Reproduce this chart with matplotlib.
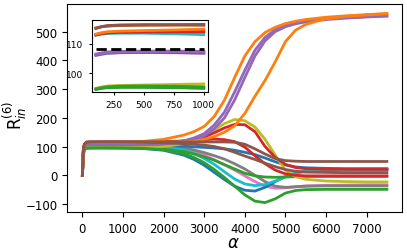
import numpy as np
import matplotlib
matplotlib.use("Agg")
import matplotlib.pyplot as plt

# sample positions along alpha
alpha = [0, 25, 50, 100, 150, 200, 300, 500, 750, 1000, 1500, 2000, 2500, 2750,
         3000, 3250, 3500, 3750, 4000, 4250, 4500, 4750, 5000, 5250, 5500, 6000,
         6500, 7000, 7500]

# R_in^(6) curves (drawing order = list order below)
pink = [0, 85, 100, 106.0, 106.4, 106.7, 106.9, 107.0, 106.9, 106.7,
        104, 99, 90, 82, 70, 54, 36, 18, -2, -22, -38, -45, -44, -40, -37, -35, -34, -33, -33]
gray = [0, 85, 100, 106.1, 106.5, 106.8, 107.0, 107.1, 107.0, 106.9,
        105, 101, 94, 88, 79, 68, 56, 40, 22, 0, -22, -38, -42, -40, -38, -37, -37, -37, -37]
blue2 = [0, 75, 89, 94.5, 94.9, 95.1, 95.3, 95.3, 95.1, 94.8,
         93, 87, 70, 55, 35, 10, -15, -38, -52, -55, -42, -22, -5, 8, 14, 17, 18, 18, 18]
cyan = [0, 90, 106, 112.9, 113.3, 113.5, 113.6, 113.6, 113.4, 113.1,
        110, 103, 88, 76, 58, 38, 12, -13, -30, -36, -32, -20, -5, 8, 15, 19, 20, 21, 21]
green2 = [0, 75, 89, 94.4, 94.8, 95.0, 95.1, 95.1, 95.0, 94.9,
          94, 91, 82, 74, 64, 52, 37, 22, 7, -2, -6, -7, -6, -5, -4, -4, -4, -4, -4]
blue1 = [0, 85, 100, 106.2, 106.6, 106.9, 107.0, 107.1, 107.0, 106.9,
         106, 104, 101, 99, 97, 95, 92, 87, 80, 72, 60, 47, 36, 29, 26, 24, 23, 23, 23]
olive = [0, 75, 89, 94.8, 95.3, 95.6, 95.8, 95.9, 96.1, 96.3,
         97, 100, 110, 122, 138, 158, 180, 194, 190, 168, 125, 70, 18, -5, -14, -20, -22, -23, -23]
green1 = [0, 75, 89, 94.6, 95.0, 95.3, 95.5, 95.6, 95.5, 95.3,
          94, 89, 75, 62, 44, 20, -8, -38, -68, -90, -95, -82, -62, -53, -50, -49, -49, -49, -49]
red2 = [0, 90, 106, 113.0, 113.5, 113.7, 113.9, 114.0, 114.1, 114.2,
        115, 116, 118, 121, 124, 126, 124, 117, 98, 68, 40, 18, 5, 0, -2, -2, -2, -2, -2]
red1 = [0, 90, 106, 113.1, 113.6, 113.8, 114.0, 114.1, 114.1, 114.0,
        114, 116, 120, 125, 133, 148, 165, 177, 176, 152, 100, 62, 38, 27, 23, 21, 21, 21, 21]
purple2 = [0, 85, 100, 106.3, 106.7, 107.0, 107.2, 107.3, 107.3, 107.2,
           107, 109, 116, 124, 137, 162, 200, 262, 340, 415, 468, 500, 517, 527, 534, 542, 547, 551, 554]
purple1 = [0, 85, 100, 106.5, 106.9, 107.2, 107.4, 107.5, 107.5, 107.4,
           108, 110, 120, 130, 145, 175, 220, 290, 365, 435, 480, 507, 522, 531, 537, 545, 549, 552, 555]
orange2 = [0, 90, 106, 113.3, 113.8, 114.1, 114.3, 114.5, 114.7, 115.0,
           115, 115, 116, 118, 125, 135, 150, 172, 215, 275, 330, 395, 465, 505, 525, 545, 553, 558, 562]
orange1 = [0, 92, 108, 115.3, 115.8, 116.0, 116.2, 116.3, 116.4, 116.5,
           118, 125, 140, 152, 170, 205, 262, 340, 415, 465, 497, 515, 528, 536, 542, 550, 555, 559, 563]
brown2 = [0, 92, 108, 115.2, 115.8, 116.1, 116.3, 116.4, 116.4, 116.3,
          115, 113, 110, 108, 105, 100, 92, 80, 67, 55, 42, 30, 20, 14, 11, 10, 9, 9, 9]
brown1 = [0, 92, 108, 115.4, 115.9, 116.2, 116.4, 116.5, 116.5, 116.6,
          116.5, 116.5, 116, 116, 116, 116, 116, 115, 108, 92, 74, 58, 51, 49, 48, 48, 48, 48, 48]

curves = [pink, gray, blue2, cyan, green2, blue1, olive, green1, red2, red1,
          purple2, purple1, orange2, orange1, brown2, brown1]
colors = ['#e377c2', '#7f7f7f', '#1f77b4', '#17becf', '#2ca02c', '#1f77b4',
          '#bcbd22', '#2ca02c', '#d62728', '#d62728', '#9467bd', '#9467bd',
          '#ff7f0e', '#ff7f0e', '#8c564b', '#8c564b']

ref_value = 108.3  # dashed reference level in the inset
inset_range = (100, 1000)

a = np.array(alpha)

fig = plt.figure(figsize=(4.07, 2.53), dpi=100)
ax = fig.add_axes([0.165, 0.158, 0.823, 0.822])
for c, col in zip(curves, colors):
    ax.plot(a, c, color=col, lw=2)
ax.set_xticks(range(0, 8000, 1000))
ax.set_yticks(range(-100, 600, 100))
ax.tick_params(labelsize=8.5)
ax.set_xlabel(r'$\alpha$', fontsize=12, va='center')
ax.set_ylabel(r'R$_{in}^{(6)}$', fontsize=12, va='center')
ax.xaxis.set_label_coords(0.495, -0.142)
ax.yaxis.set_label_coords(-0.155, 0.47)

# inset: zoom on the early plateau
ins = fig.add_axes([0.226, 0.632, 0.285, 0.285])
mask = (a >= inset_range[0]) & (a <= inset_range[1])
for c, col in zip(curves, colors):
    ins.plot(a[mask], np.array(c)[mask], color=col, lw=2)
ins.plot(inset_range, [ref_value, ref_value], 'k--', lw=2)
ins.set_xlim(67, 1035)
ins.set_ylim(93.5, 118.1)
ins.set_xticks([250, 500, 750, 1000])
ins.set_yticks([100, 110])
ins.tick_params(labelsize=6.5, length=2.5)

fig.savefig('out.png', dpi=100)
